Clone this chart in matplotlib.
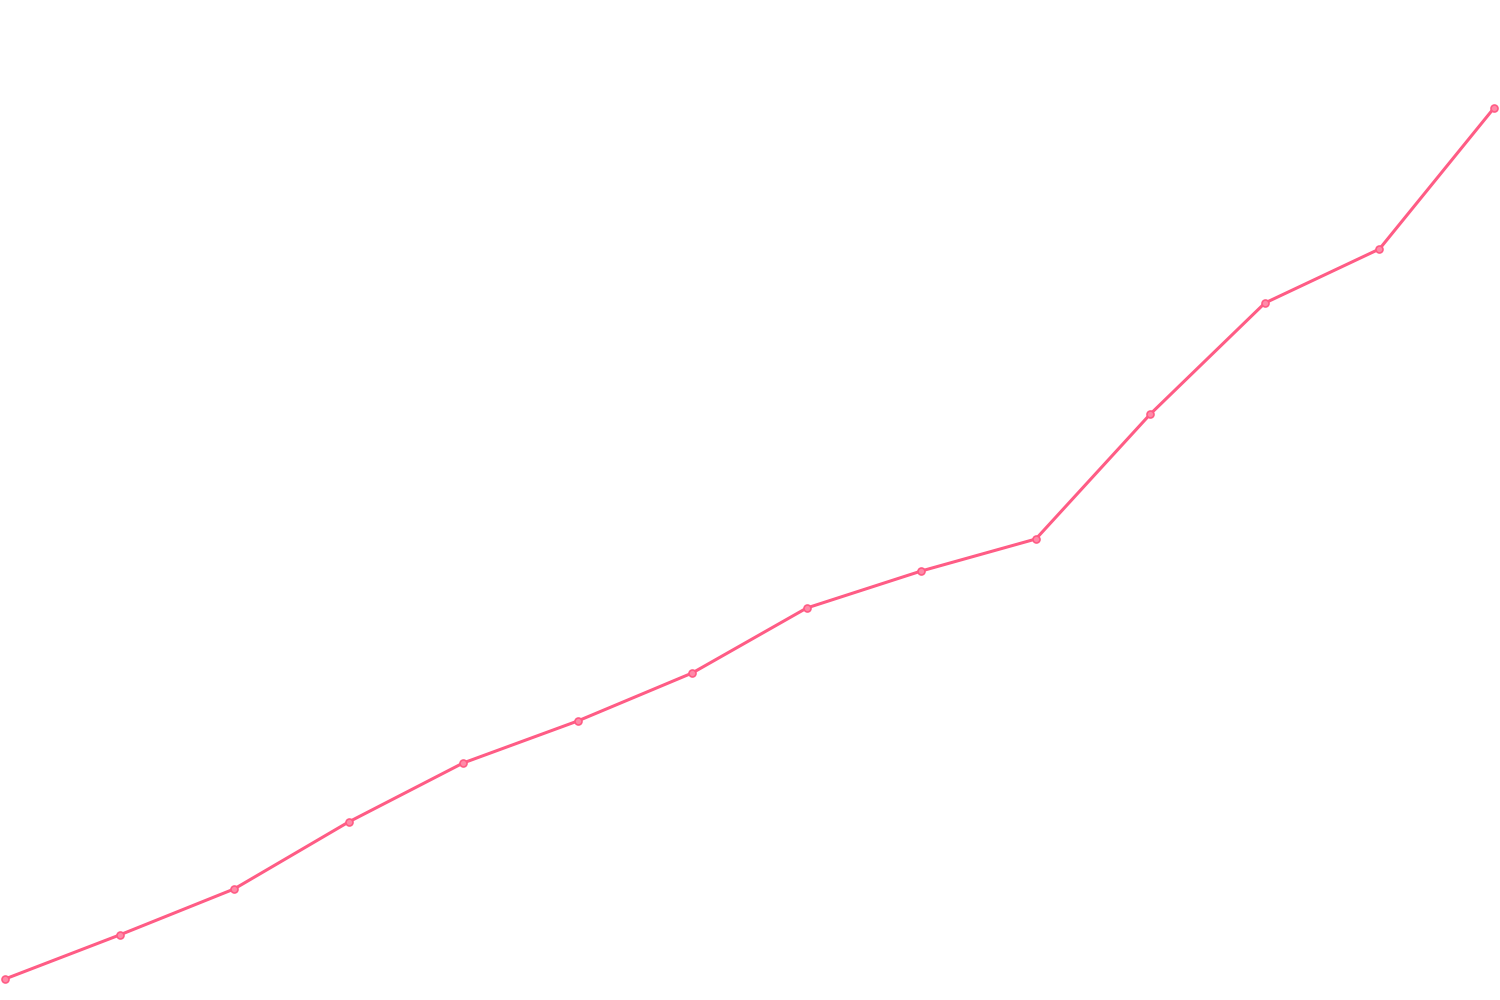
import numpy as np
import matplotlib.pyplot as plt

# values (arbitrary units, no axes shown)
steps = np.arange(14)
values = [21, 65, 111, 178, 237, 279, 327, 392, 429, 461, 586, 697, 751, 892]

line_color = '#ff5c85'

fig = plt.figure(figsize=(15, 10), dpi=100)
ax = fig.add_axes([0, 0, 1, 1])
ax.plot(steps, values, '-', color=line_color, linewidth=2.2,
        marker='o', markersize=5, markerfacecolor='#ff8aa8',
        markeredgecolor=line_color, markeredgewidth=1.2)

step_px = (1494 - 5) / 13
ax.set_xlim(-5 / step_px, 13 + 6 / step_px)
ax.set_ylim(0, 1000)
ax.axis('off')

fig.savefig('out.png', dpi=100)
